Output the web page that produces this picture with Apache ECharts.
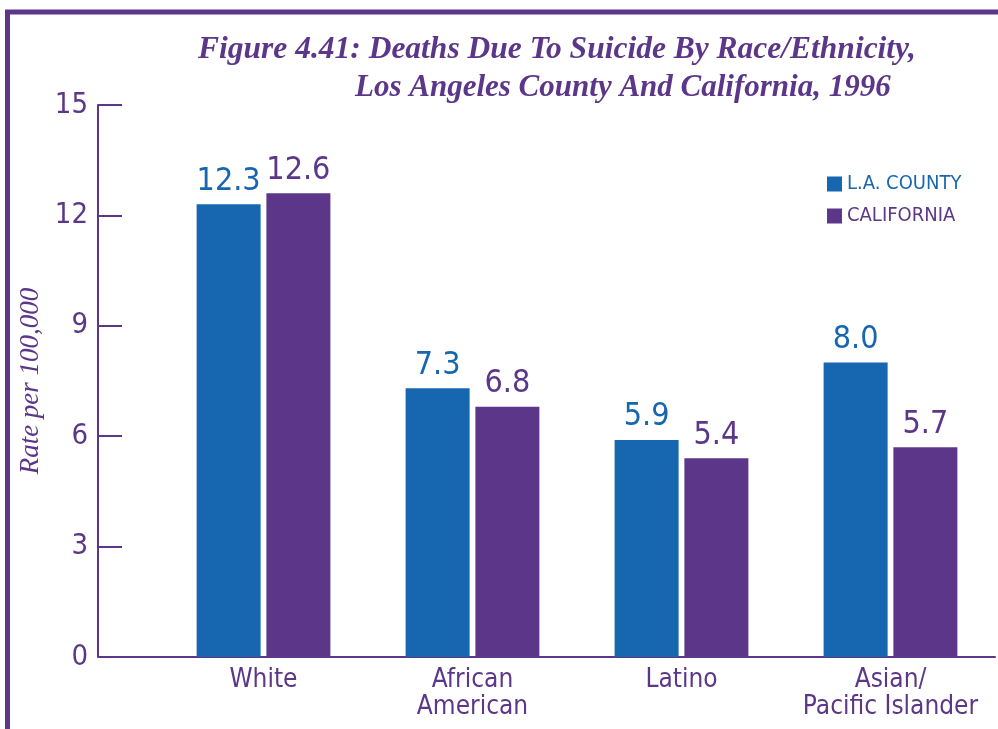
<!DOCTYPE html>
<html>
<head>
<meta charset="utf-8">
<script src="https://cdn.jsdelivr.net/npm/echarts@6/dist/echarts.min.js"></script>
<style>
  html, body { margin: 0; padding: 0; background: #fff; }
  #main { width: 998px; height: 729px; }
</style>
</head>
<body>
<div id="main"></div>
<script>
// data
var categories = ['White', 'African\nAmerican', 'Latino', 'Asian/\nPacific Islander'];
var laCounty = [12.3, 7.3, 5.9, 8.0];
var california = [12.6, 6.8, 5.4, 5.7];
var seriesNames = ['L.A. COUNTY', 'CALIFORNIA'];

var blue = '#1766b0';
var purple = '#5c3789';
var narrow = '"DejaVu Sans Condensed", "Liberation Sans Narrow", "DejaVu Sans", sans-serif';
var serif = '"Liberation Serif", "DejaVu Serif", serif';

var myChart = echarts.init(document.getElementById('main'));

var option = {
    backgroundColor: '#fff',
    title: [
        {
            text: 'Figure 4.41: Deaths Due To Suicide By Race/Ethnicity,',
            left: 193, top: 29,
            textStyle: { fontFamily: serif, fontStyle: 'italic', fontWeight: 'bold', fontSize: 31.5, color: purple }
        },
        {
            text: 'Los Angeles County And California, 1996',
            left: 350, top: 67,
            textStyle: { fontFamily: serif, fontStyle: 'italic', fontWeight: 'bold', fontSize: 31, color: purple }
        }
    ],
    legend: {
        orient: 'vertical',
        left: 822, top: 169,
        itemWidth: 15, itemHeight: 15, itemGap: 12,
        icon: 'rect',
        data: [
            { name: seriesNames[0], textStyle: { color: blue } },
            { name: seriesNames[1], textStyle: { color: purple } }
        ],
        textStyle: { fontFamily: narrow, fontSize: 20 }
    },
    grid: { left: 159, right: 3, top: 105, bottom: 72 },
    xAxis: {
        type: 'category',
        data: categories,
        axisLine: { lineStyle: { color: purple, width: 2 } },
        axisTick: { show: false },
        axisLabel: { interval: 0, fontFamily: narrow, fontSize: 26, lineHeight: 27, color: purple, margin: 10 }
    },
    yAxis: {
        type: 'value',
        min: 0, max: 15, interval: 3,
        offset: 61,
        name: 'Rate per 100,000',
        nameLocation: 'middle',
        nameRotate: 90,
        nameGap: 48,
        nameTextStyle: { fontFamily: serif, fontStyle: 'italic', fontSize: 27, color: purple },
        axisLine: { show: true, lineStyle: { color: purple, width: 2 } },
        axisTick: { show: true, inside: true, length: 24, lineStyle: { color: purple, width: 2 } },
        splitLine: { show: false },
        axisLabel: { fontFamily: narrow, fontSize: 29, color: purple, margin: 10 }
    },
    series: [
        {
            name: seriesNames[0],
            type: 'bar',
            data: laCounty,
            barWidth: 64,
            barGap: '9%',
            itemStyle: { color: blue },
            label: {
                show: true, position: 'top', distance: 7,
                formatter: function (p) { return p.value.toFixed(1); },
                fontFamily: narrow, fontSize: 32, color: blue
            }
        },
        {
            name: seriesNames[1],
            type: 'bar',
            data: california,
            barWidth: 64,
            itemStyle: { color: purple },
            label: {
                show: true, position: 'top', distance: 7,
                formatter: function (p) { return p.value.toFixed(1); },
                fontFamily: narrow, fontSize: 32, color: purple
            }
        }
    ],
    graphic: [
        // frame on the left and top
        { type: 'line', shape: { x1: 7.5, y1: 10, x2: 7.5, y2: 729 }, style: { stroke: purple, lineWidth: 5 } },
        { type: 'line', shape: { x1: 5, y1: 12, x2: 998, y2: 12 }, style: { stroke: purple, lineWidth: 5 } },
        // x axis runs back to the y axis
        { type: 'line', shape: { x1: 98, y1: 657, x2: 160, y2: 657 }, style: { stroke: purple, lineWidth: 2 } }
    ]
};
myChart.setOption(option);
</script>
</body>
</html>
